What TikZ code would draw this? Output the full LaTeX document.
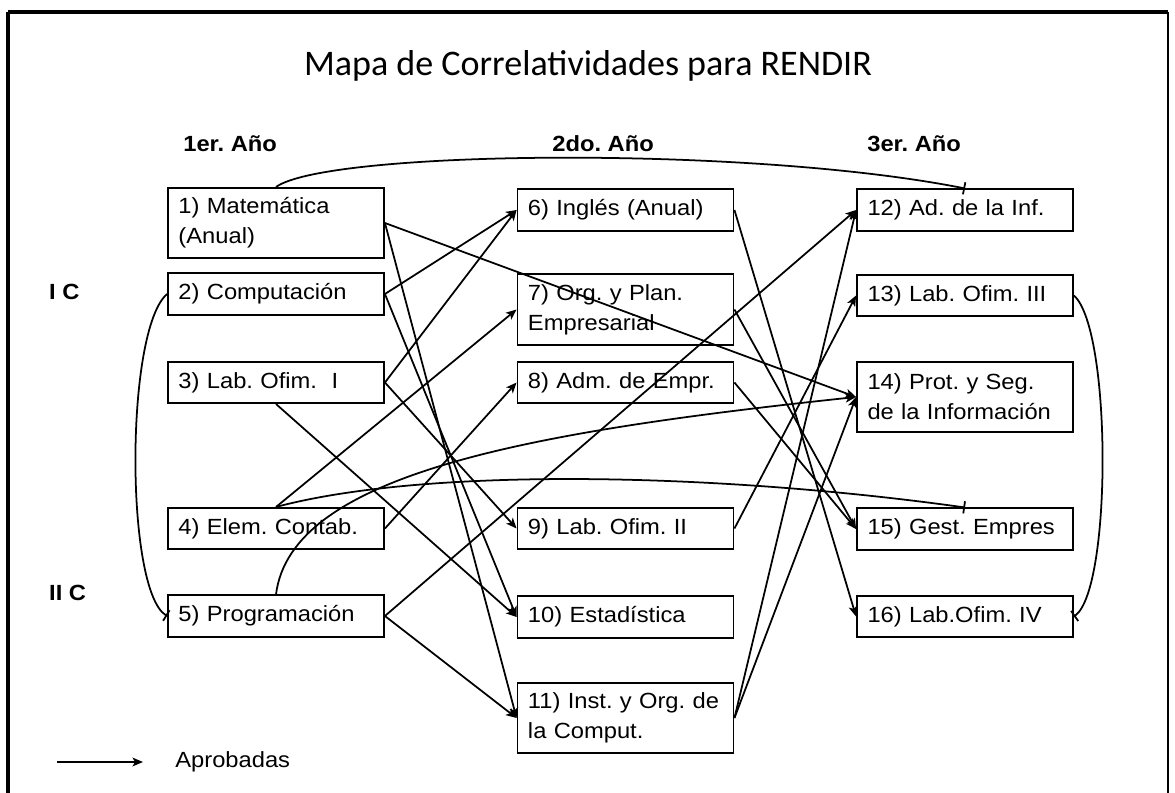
\documentclass[tikz,border=0pt]{standalone}
\usepackage{fontspec}
\setmainfont{Liberation Sans}[FakeStretch=1.08]
\newfontfamily\titlefont{Carlito}
\usetikzlibrary{arrows.meta}

\tikzset{
  subj/.style={draw, line width=1pt, align=left, text width=111pt, inner xsep=6pt,
    minimum height=23.5pt, font=\fontsize{12.5}{17}\selectfont},
  twoline/.style={minimum height=40pt},
  yr/.style={anchor=base west, inner sep=0pt, font=\fontsize{12.5}{15}\selectfont\bfseries},
  conn/.style={line width=1pt, -{Stealth[length=6pt,width=5pt,inset=1.5pt]}},
  corr/.style={line width=1pt, -{Bar[width=7pt]}},
}

\begin{document}
\frenchspacing
\begin{tikzpicture}[x=0.02cm, y=-0.02cm]
    \useasboundingbox (0,0) rectangle (1175,793);
    % Frame
    \draw[line width=2.2pt] (8,793) -- (8,12);
    \draw[line width=1.8pt] (8,12) -- (1168,12);
    \draw[line width=1.2pt] (1168,12) -- (1168,793);

    % Titles
    \node[font=\titlefont\fontsize{20.5}{24}\selectfont] (title) at (588,66) {Mapa de Correlatividades para RENDIR};
    \node[yr] (y1) at (183,152) {1er. Año};
    \node[yr] (y2) at (552,152) {2do. Año};
    \node[yr] (y3) at (867,152) {3er. Año};
    \node[anchor=west, font=\fontsize{12.5}{15}\selectfont\bfseries] (ic) at (43,292) {I C};
    \node[anchor=west, font=\fontsize{12.5}{15}\selectfont\bfseries] (iic) at (43,593) {II C};

    % First year
    \node[subj, twoline] (mat) at (276,223) {1) Matemática\\(Anual)};
    \node[subj] (comp) at (276,294) {2) Computación};
    \node[subj] (lab1) at (276,382.5) {3) Lab. Ofim.\ \ I};
    \node[subj] (cont) at (276,528.5) {4) Elem. Contab.};
    \node[subj] (prog) at (276,616) {5) Programación};

    % Second year
    \node[subj] (ing) at (625.5,210) {6) Inglés (Anual)};
    \node[subj, twoline] (org) at (625.5,309.5) {7) Org. y Plan.\\Empresarial};
    \node[subj] (adm) at (625.5,382.5) {8) Adm. de Empr.};
    \node[subj] (lab2) at (625.5,528.5) {9) Lab. Ofim. II};
    \node[subj] (est) at (625.5,617) {10) Estadística};
    \node[subj, twoline] (inst) at (625.5,718) {11) Inst. y Org. de\\la Comput.};

    % Third year
    \node[subj] (adinf) at (965,210) {12) Ad. de la Inf.};
    \node[subj] (lab3) at (965,295.5) {13) Lab. Ofim. III};
    \node[subj, twoline] (prot) at (965,397) {14) Prot. y Seg.\\de la Información};
    \node[subj] (gest) at (965,529) {15) Gest. Empres};
    \node[subj] (lab4) at (965,616.5) {16) Lab.Ofim. IV};

    % Aprobadas
    \draw[conn] (mat.east) -- (prot.west);
    \draw[conn] (mat.east) -- (inst.west);
    \draw[conn] (comp.east) -- (ing.west);
    \draw[conn] (comp.east) -- (est.west);
    \draw[conn] (lab1.east) -- (ing.west);
    \draw[conn] (lab1.east) -- (lab2.west);
    \draw[conn] (lab1.south) -- (est.west);
    \draw[conn] (cont.north) -- (org.west);
    \draw[conn] (cont.east) -- (adm.west);
    \draw[conn] (prog.east) -- (adinf.west);
    \draw[conn] (prog.east) -- (inst.west);
    \draw[conn] (prog.north) .. controls +(15,-120) and +(-330,35) .. (prot.west);
    \draw[conn] (ing.east) -- (lab4.west);
    \draw[conn] (org.east) -- (gest.west);
    \draw[conn] (adm.east) -- (gest.west);
    \draw[conn] (lab2.east) -- (lab3.west);
    \draw[conn] (inst.east) -- (adinf.west);
    \draw[conn] (inst.east) -- (prot.west);

    % Curved links
    \draw[corr] (mat.north) .. controls +(52,-37) and +(-215,-43) .. (adinf.north);
    \draw[corr] (comp.west) .. controls +(-42,36) and +(-42,-26) .. (prog.west);
    \draw[corr] (cont.north) .. controls +(150,-40) and +(-250,-35) .. (gest.north);
    \draw[corr] (lab3.east) .. controls +(38,34) and +(38,-27) .. (lab4.east);

    % Legend
    \coordinate (legA) at (57,762);
    \coordinate (legB) at (143,762);
    \draw[conn] (legA) -- (legB);
    \node[anchor=west, inner sep=0pt, font=\fontsize{12.5}{15}\selectfont] (legtxt) at (175,762) {Aprobadas};
\end{tikzpicture}
\end{document}
